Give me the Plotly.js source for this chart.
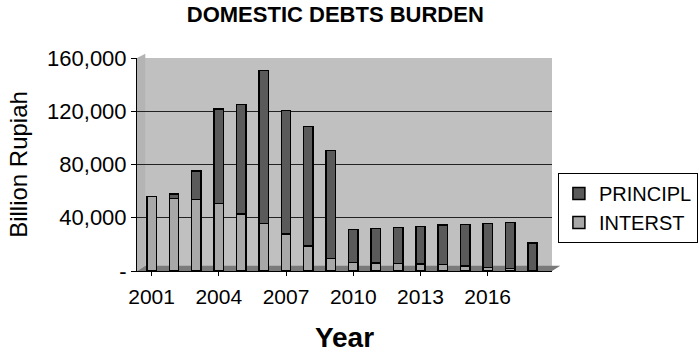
<!DOCTYPE html>
<html>
<head>
<meta charset="utf-8">
<script src="https://cdn.plot.ly/plotly-3.0.1.min.js"></script>
<style>html,body{margin:0;padding:0;background:#fff;}#chart{width:700px;height:353px;}</style>
</head>
<body>
<div id="chart"></div>
<script>
const years = [2001,2002,2003,2004,2005,2006,2007,2008,2009,2010,2011,2012,2013,2014,2015,2016,2017,2018];
const interest = [56000,54400,53800,50600,43000,35600,27700,18700,9500,6500,6200,5700,5200,4700,3700,2700,1700,0];
const principal = [0,3600,21200,71000,81900,115200,92700,89700,81000,24700,25700,27000,28400,29700,31200,32900,34900,21200];
const yTickVals = [0,40000,80000,120000,160000];
const yTickText = ['-','40,000','80,000','120,000','160,000'];
const xTickVals = [2001,2004,2007,2010,2013,2016];

const font = 'Liberation Sans, Arial, sans-serif';
const traces = [
  {type:'bar', name:'INTERST', x:years, y:interest, width:0.42,
   marker:{color:'#a8a8a8', line:{color:'#000', width:1.5}}},
  {type:'bar', name:'PRINCIPL', x:years, y:principal, width:0.42,
   marker:{color:'#5a5a5a', line:{color:'#000', width:1.5}}}
];
const layout = {
  width:700, height:353,
  margin:{l:137, r:148, t:58, b:82, autoexpand:false},
  barmode:'stack',
  paper_bgcolor:'#fff', plot_bgcolor:'#c0c0c0',
  font:{family:font, color:'#000', size:21},
  title:{text:'<b>DOMESTIC DEBTS BURDEN</b>', x:0.479, xanchor:'center', y:0.98, yanchor:'top', font:{size:22, family:font}},
  xaxis:{range:[2000.35,2018.87], tickvals:xTickVals, ticktext:xTickVals.map(String),
    showgrid:false, zeroline:false, showline:true, linecolor:'#000', linewidth:1,
    ticks:'outside', ticklen:4, tickcolor:'#000', tickfont:{size:21}, ticklabelstandoff:3,
    title:{text:'<b>Year</b>', font:{size:28}, standoff:21}},
  yaxis:{range:[0,160000], tickvals:yTickVals, ticktext:yTickText,
    showgrid:true, gridcolor:'#222', gridwidth:1, zeroline:false,
    showline:true, linecolor:'#000', linewidth:1, ticks:'outside', ticklen:5, tickcolor:'#000',
    tickfont:{size:22}, title:{text:'Billion Rupiah', font:{size:24}, standoff:12}},
  legend:{xref:'container', yref:'container', x:0.797, xanchor:'left', y:0.51, yanchor:'top', traceorder:'reversed',
    bgcolor:'#fff', bordercolor:'#000', borderwidth:1, font:{size:20},
    itemwidth:30, tracegroupgap:0},
  shapes:[
    {type:'path', xref:'paper', yref:'paper', layer:'below',
     path:'M 0 0 L 1 0 L 1.02 0.025 L 0.02 0.025 Z', fillcolor:'#7a7a7a', line:{width:0}},
    {type:'path', xref:'paper', yref:'paper', layer:'below',
     path:'M 0 0 L 0.02 0.025 L 0.02 1.02 L 0 1 Z', fillcolor:'#b4b4b4', line:{width:0}}
  ],
  showlegend:true
};
Plotly.newPlot('chart', traces, layout, {staticPlot:true});
</script>
</body>
</html>
